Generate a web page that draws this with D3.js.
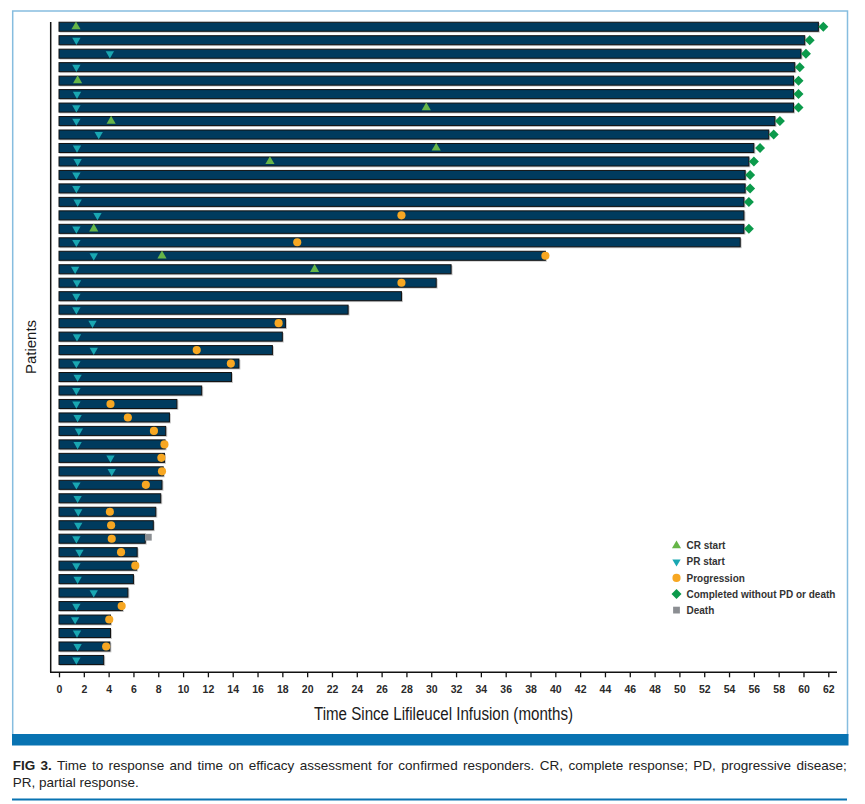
<!DOCTYPE html>
<html>
<head>
<meta charset="utf-8">
<script src="https://cdn.jsdelivr.net/npm/d3@7"></script>
<style>
  body { margin: 0; background: #fff; }
  text { font-family: "Liberation Sans", Arial, sans-serif; }
</style>
</head>
<body>
<svg id="chart" width="865" height="804"></svg>
<script>
// time on efficacy assessment (months), one bar per patient, top to bottom
var barEnd = [61.2, 60.1, 59.8, 59.3, 59.2, 59.2, 59.2, 57.7, 57.2, 56.0,
              55.6, 55.3, 55.3, 55.2, 55.2, 55.2, 54.9, 39.2, 31.6, 30.4,
              27.6, 23.3, 18.25, 18.0, 17.2, 14.5, 13.9, 11.5, 9.5, 8.9,
              8.6, 8.55, 8.5, 8.4, 8.3, 8.2, 7.8, 7.6, 6.95, 6.3,
              6.25, 6.0, 5.55, 5.1, 4.15, 4.15, 4.1, 3.6];

// events as [patient row (1 = top), month]
var crStart = [[1, 1.37], [5, 1.5], [7, 29.6], [8, 4.2], [10, 30.4], [11, 17.0],
               [16, 2.8], [18, 8.3], [19, 20.6]];
var prStart = [[2, 1.4], [3, 4.1], [4, 1.4], [6, 1.45], [7, 1.4], [8, 1.4], [9, 3.2],
               [10, 1.45], [11, 1.5], [12, 1.4], [13, 1.4], [14, 1.5], [15, 3.1],
               [16, 1.4], [17, 1.4], [18, 2.8], [19, 1.3], [20, 1.45], [21, 1.4],
               [22, 1.4], [23, 2.7], [24, 1.45], [25, 2.8], [26, 1.4], [27, 1.5],
               [28, 1.4], [29, 1.4], [30, 1.5], [31, 1.6], [32, 1.5], [33, 4.15],
               [34, 4.25], [35, 1.4], [36, 1.5], [37, 1.55], [38, 1.55], [39, 1.4],
               [40, 1.65], [41, 1.4], [42, 1.5], [43, 2.8], [44, 1.4], [45, 1.3],
               [46, 1.45], [47, 1.5], [48, 1.4]];
var progression = [[15, 27.6], [17, 19.2], [18, 39.2], [20, 27.6], [23, 17.7],
                   [25, 11.1], [26, 13.85], [29, 4.15], [30, 5.55], [31, 7.65],
                   [32, 8.5], [33, 8.25], [34, 8.3], [35, 7.0], [37, 4.1], [38, 4.2],
                   [39, 4.25], [40, 5.0], [41, 6.15], [44, 5.05], [45, 4.05], [47, 3.8]];
var completed = [[1, 61.6], [2, 60.5], [3, 60.2], [4, 59.7], [5, 59.6], [6, 59.6],
                 [7, 59.6], [8, 58.1], [9, 57.6], [10, 56.5], [11, 56.0], [12, 55.7],
                 [13, 55.7], [14, 55.6], [16, 55.6]];
var death = [[39, 7.2]];

var xTicks = [0, 2, 4, 6, 8, 10, 12, 14, 16, 18, 20, 22, 24, 26, 28, 30, 32, 34, 36,
              38, 40, 42, 44, 46, 48, 50, 52, 54, 56, 58, 60, 62];

var legendItems = ["CR start", "PR start", "Progression", "Completed without PD or death", "Death"];

var colors = {
  bar: "#003b5e",
  cr: "#66b548",
  pr: "#19a7b2",
  prog: "#f7a722",
  done: "#0b9a4b",
  death: "#8b8e92",
  frame: "#86bddf",
  band: "#0873b2"
};

var svg = d3.select("#chart");
svg.append("rect").attr("width", 865).attr("height", 804).attr("fill", "#fff");

// outer frame, blue band and bottom rule
svg.append("rect").attr("x", 12.7).attr("y", 11).attr("width", 834.8).attr("height", 724)
   .attr("fill", "none").attr("stroke", colors.frame).attr("stroke-width", 1.5);
svg.append("rect").attr("x", 12).attr("y", 734).attr("width", 836.5).attr("height", 11.5)
   .attr("fill", colors.band);
svg.append("line").attr("x1", 12).attr("x2", 847).attr("y1", 799.5).attr("y2", 799.5)
   .attr("stroke", colors.band).attr("stroke-width", 2);

var x = d3.scaleLinear().domain([0, 62]).range([59, 828.3]);
var rows = d3.range(1, barEnd.length + 1);
var y = d3.scaleBand().domain(rows).range([20, 666.7])
          .paddingInner(0.33).paddingOuter(0.165);
var yc = function(r) { return y(r) + y.bandwidth() / 2; };

// bars with a faint shadow
var bars = svg.append("g");
bars.selectAll("rect.shadow").data(barEnd).enter().append("rect")
    .attr("class", "shadow")
    .attr("x", x(0) + 0.5)
    .attr("y", function(d, i) { return y(i + 1) + 0.8; })
    .attr("width", function(d) { return x(d) - x(0) + 1; })
    .attr("height", y.bandwidth() + 0.6)
    .attr("fill", "#c8c8c8");
bars.selectAll("rect.bar").data(barEnd).enter().append("rect")
    .attr("class", "bar")
    .attr("x", x(0))
    .attr("y", function(d, i) { return y(i + 1); })
    .attr("width", function(d) { return x(d) - x(0); })
    .attr("height", y.bandwidth())
    .attr("fill", colors.bar)
    .attr("stroke", "#111")
    .attr("stroke-width", 1);

// axes
svg.append("line").attr("x1", 50.7).attr("x2", 50.7).attr("y1", 22).attr("y2", 672.3)
   .attr("stroke", "#111").attr("stroke-width", 1.5);
svg.append("line").attr("x1", 50).attr("x2", 837).attr("y1", 672.3).attr("y2", 672.3)
   .attr("stroke", "#111").attr("stroke-width", 1.5);

var xAxis = svg.append("g").attr("transform", "translate(0,672.3)")
    .call(d3.axisBottom(x).tickValues(xTicks).tickSize(5).tickSizeOuter(0).tickPadding(8));
xAxis.select(".domain").remove();
xAxis.selectAll(".tick line").attr("stroke", "#111").attr("stroke-width", 1.3);
xAxis.selectAll(".tick text").attr("font-size", 10.5).attr("font-weight", "bold")
     .attr("fill", "#2a2a2a")
     .attr("font-family", "'Liberation Sans', Arial, sans-serif");

// condensed look for the axis title: squeeze the glyphs to the measured width
svg.append("text").attr("x", 314).attr("y", 720)
   .attr("font-size", 17.5).attr("fill", "#1a1a1a")
   .attr("textLength", 259).attr("lengthAdjust", "spacingAndGlyphs")
   .text("Time Since Lifileucel Infusion (months)");
svg.append("text").attr("transform", "translate(36,347) rotate(-90)")
   .attr("text-anchor", "middle").attr("font-size", 15).attr("fill", "#1a1a1a")
   .text("Patients");

// markers
var sym = {
  cr: d3.symbol().type(d3.symbolTriangle).size(36),
  pr: d3.symbol().type(d3.symbolTriangle).size(30),
  prog: d3.symbol().type(d3.symbolCircle).size(52),
  done: d3.symbol().type(d3.symbolSquare).size(50),
  death: d3.symbol().type(d3.symbolSquare).size(46)
};

function drawMarks(data, key, rot, dy) {
  svg.append("g").selectAll("path").data(data).enter().append("path")
     .attr("d", sym[key]())
     .attr("transform", function(d) {
       return "translate(" + x(d[1]) + "," + (yc(d[0]) + dy) + ") rotate(" + rot + ")";
     })
     .attr("fill", colors[key]);
}
drawMarks(prStart, "pr", 180, 0);
drawMarks(crStart, "cr", 0, 0);
drawMarks(progression, "prog", 0, 0);
drawMarks(completed, "done", 45, 0);
drawMarks(death, "death", 0, -1.5);

// legend
var legendKeys = ["cr", "pr", "prog", "done", "death"];
var legendRot = [0, 180, 0, 45, 0];
var legend = svg.append("g");
legendItems.forEach(function(label, i) {
  var ly = 545.7 + i * 16.1;
  legend.append("path").attr("d", sym[legendKeys[i]]())
        .attr("transform", "translate(676.5," + ly + ") rotate(" + legendRot[i] + ")")
        .attr("fill", colors[legendKeys[i]]);
  legend.append("text").attr("x", 686.5).attr("y", ly + 3.6)
        .attr("font-size", 10).attr("font-weight", "bold").attr("fill", "#333").text(label);
});

// caption, first line justified through word spacing
var caption = svg.append("text").attr("x", 12.7).attr("y", 769.5).attr("font-size", 13.5)
   .attr("fill", "#222");
caption.append("tspan").attr("font-weight", "bold").text("FIG 3.");
var capRest = " Time to response and time on efficacy assessment for confirmed responders. CR, complete response; PD, progressive disease;";
caption.append("tspan").text(capRest);
var natural = caption.node().getComputedTextLength();
var spaces = capRest.split(" ").length - 1 + 1;
caption.attr("word-spacing", Math.max(0, (834 - natural) / spaces));
svg.append("text").attr("x", 12.7).attr("y", 786.7).attr("font-size", 13.5).attr("fill", "#222")
   .text("PR, partial response.");
</script>
</body>
</html>
